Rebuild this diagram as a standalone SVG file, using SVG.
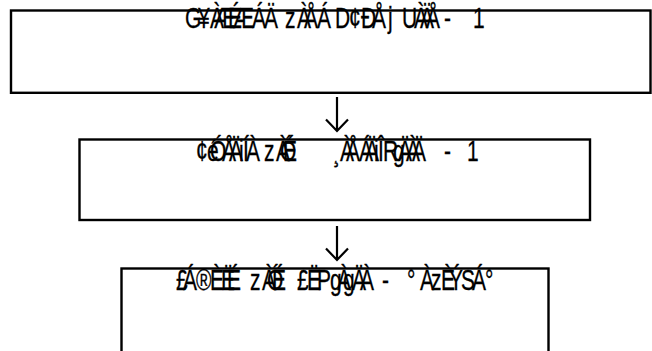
<svg xmlns="http://www.w3.org/2000/svg" width="652" height="351" viewBox="0 0 652 351">
<style>
.box{fill:#fff;stroke:#000;stroke-width:2.4}
.lbl{font-family:"Liberation Sans",Arial,sans-serif;font-size:30px;fill:#000;stroke:#000;stroke-width:0.3}
.arr{fill:none;stroke:#000;stroke-width:2.2}
</style>
<rect width="652" height="351" fill="#fff"/>
<g id="node1">
<rect class="box" x="11" y="10.5" width="639.5" height="82.3"/>
<text class="lbl" transform="scale(0.7 1)" y="28" x="264.3 282.9 300 305.7 325.7 332.9 360 377.1 407.1 424.3 434.3 452.9 470 478.6 498.6 515.7 531.4 554.3 564.3 574.3 591.4 600 608.6 625.7 634.3 650 675.7">G¥ÀÆÉÆÁÄzÀÅÁ D¢ÐÅj UÀÄÅ - 1</text>
</g>
<g id="node2">
<rect class="box" x="79.5" y="139.5" width="510.5" height="80.5"/>
<text class="lbl" transform="scale(0.7 1)" y="161" x="280 295.7 300 317.1 327.1 341.4 347.1 351.4 368.6 377.1 394.3 400 404.3 428.6 475.7 485.7 494.3 512.9 521.4 534.3 540 547.1 561.4 568.6 580 588.6 607.1 634.3 650 667.1">¢éÓÅÄiÍÀ zÀÓÉ ¸ÀÅÁÄiÎRgÄÀÄ - 1</text>
</g>
<g id="node3">
<rect class="box" x="121.5" y="268.5" width="427" height="100"/>
<text class="lbl" transform="scale(0.7 1)" y="290" x="251.4 261.4 280 300 315.7 324.3 345.7 357.1 374.3 381.4 388.6 411.4 424.3 438.6 452.9 471.4 481.4 490 502.9 514.3 534.3 545.7 564.3 581.4 600 615.7 630 641.4 658.6 674.3 692.9">£Á®ÈËÉ zÀÓÉ £ËPgÀgÄÀ - °ÀzÈÝSÁ°</text>
</g>
<g id="connectors">
<path class="arr" d="M337 97V131M326 119.5L337 131L348 119.5"/>
<path class="arr" d="M337 226V260M326 248.5L337 260L348 248.5"/>
</g>
</svg>
